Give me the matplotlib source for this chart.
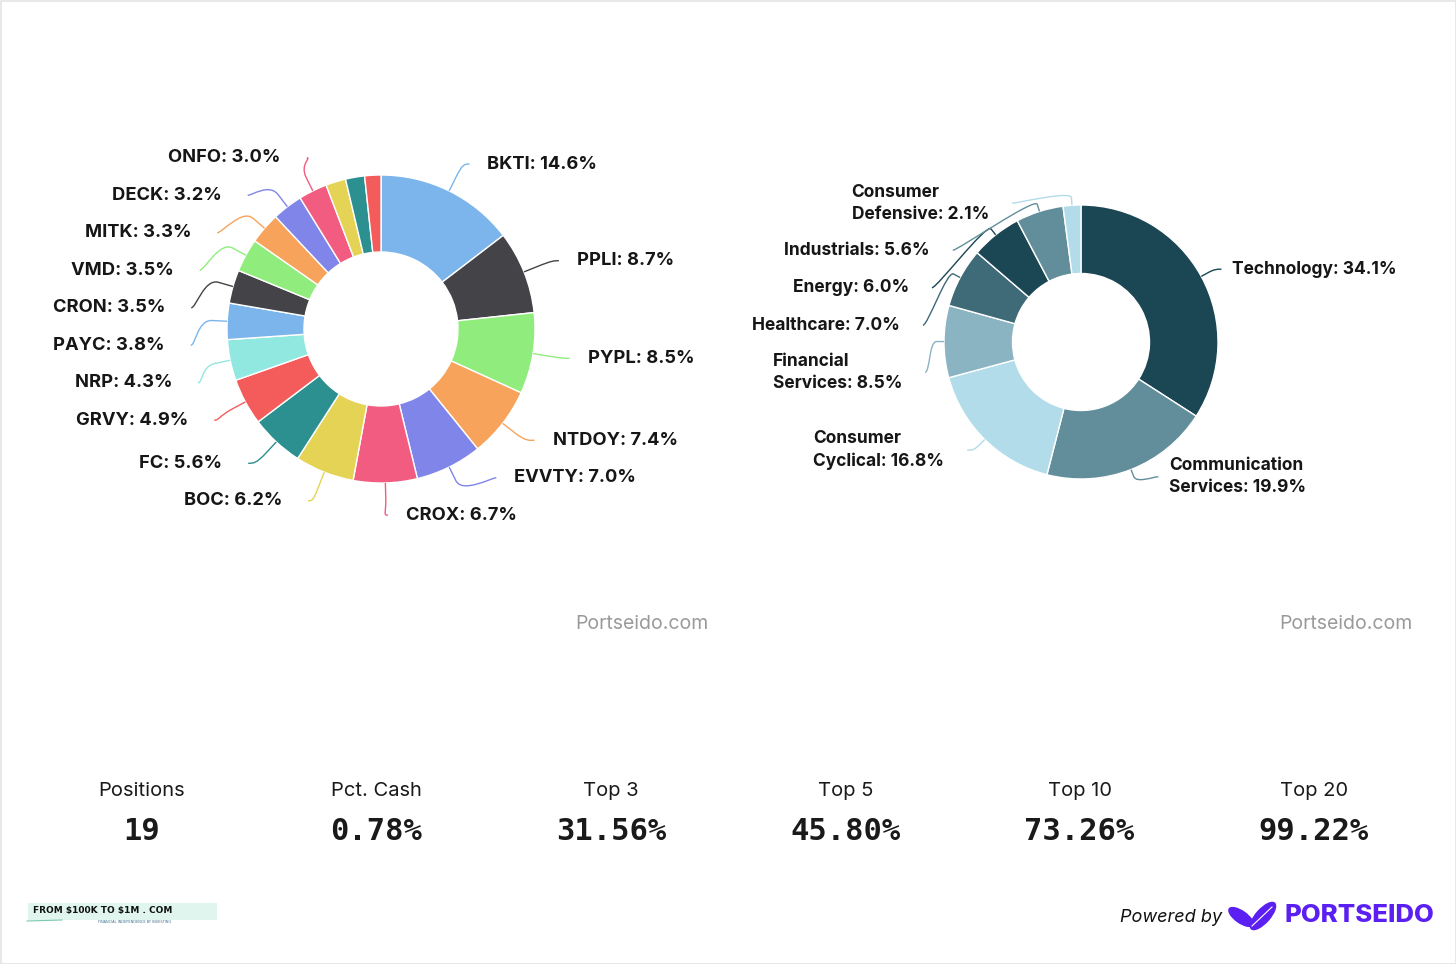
import numpy as np
import matplotlib
matplotlib.use("Agg")
import matplotlib.pyplot as plt
from matplotlib.patches import PathPatch, Rectangle, Ellipse
from matplotlib.path import Path

W, H = 1456, 964

# holdings (clockwise from 12 o'clock), last three too small to get a label
tickers = ["BKTI", "PPLI", "PYPL", "NTDOY", "EVVTY", "CROX", "BOC", "FC", "GRVY", "NRP",
           "PAYC", "CRON", "VMD", "MITK", "DECK", "ONFO", "", "", ""]
weights = [14.6, 8.7, 8.5, 7.4, 7.0, 6.7, 6.2, 5.6, 4.9, 4.3,
           3.8, 3.5, 3.5, 3.3, 3.2, 3.0, 2.1, 2.0, 1.7]
palette = ["#7cb5ec", "#434348", "#90ed7d", "#f7a35c", "#8085e9",
           "#f15c80", "#e4d354", "#2b908f", "#f45b5b", "#91e8e1"]

# sectors
sectors = ["Technology", "Communication\nServices", "Consumer\nCyclical", "Financial\nServices",
           "Healthcare", "Energy", "Industrials", "Consumer\nDefensive"]
sector_weights = [34.1, 19.9, 16.8, 8.5, 7.0, 6.0, 5.6, 2.1]
sector_colors = ["#1b4654", "#628e9b", "#b2dcea", "#8ab4c2",
                 "#3f6a78", "#1b4654", "#628e9b", "#b2dcea"]

# summary row
stat_names = ["Positions", "Pct. Cash", "Top 3", "Top 5", "Top 10", "Top 20"]
stat_values = ["19", "0.78%", "31.56%", "45.80%", "73.26%", "99.22%"]

LABEL_FONT = "Inter"
PURPLE = "#5b1ff2"


def spread(targets, sizes, lo, hi):
    """push overlapping label boxes apart, keeping groups centred on their targets"""
    groups = [[i] for i in np.argsort(targets)]
    while True:
        tops = []
        for g in groups:
            sz = np.array([sizes[i] for i in g])
            centre_offs = np.cumsum(sz) - sz / 2
            top = np.mean([targets[i] - co for i, co in zip(g, centre_offs)])
            tops.append(min(max(top, lo), hi - sz.sum()))
        merged = False
        for k in range(len(groups) - 1):
            end_k = tops[k] + sum(sizes[i] for i in groups[k])
            if end_k > tops[k + 1] + 1e-6:
                groups[k] = groups[k] + groups.pop(k + 1)
                merged = True
                break
        if not merged:
            break
    pos = {}
    for g, top in zip(groups, tops):
        y = top
        for i in g:
            pos[i] = y + sizes[i] / 2
            y += sizes[i]
    return pos


def donut(ax, values, colors, names, cx, cy, r, hole, dist, lo, hi, pad_l, pad_r, fs):
    # y axis is inverted, so counterclock in data space reads clockwise on screen
    ax.pie(values, colors=colors, radius=r, center=(cx, cy), startangle=-90,
           counterclock=True, wedgeprops=dict(width=r - hole, edgecolor="white", linewidth=1))
    frac = np.array(values) / np.sum(values)
    mids = np.radians((np.cumsum(frac) - frac / 2) * 360)
    rl = r + dist
    for right in (True, False):
        idx = [i for i in range(len(values)) if names[i] and ((mids[i] < np.pi) == right)]
        targets = {i: cy - rl * np.cos(mids[i]) for i in idx}
        sizes = {i: 19 * (names[i].count("\n") + 1) + 18.5 for i in idx}
        keys = list(idx)
        pos = spread([targets[i] for i in keys], [sizes[i] for i in keys], lo, hi)
        for j, i in enumerate(keys):
            y = pos[j]
            s = np.clip((y - cy) / rl, -1, 1)
            sign = 1 if right else -1
            gx = cx + sign * np.sqrt(1 - s ** 2) * rl
            lx = gx + sign * 7
            dx, dy = np.sin(mids[i]), -np.cos(mids[i])
            bx, by = cx + (r + dist / 2) * dx, cy + (r + dist / 2) * dy
            tx, ty = cx + r * dx, cy + r * dy
            verts = [(lx, y), (lx - sign * 5, y), (2 * bx - tx, 2 * by - ty), (bx, by), (tx, ty)]
            codes = [Path.MOVETO, Path.CURVE4, Path.CURVE4, Path.CURVE4, Path.LINETO]
            ax.add_patch(PathPatch(Path(verts, codes), fill=False, edgecolor=colors[i], lw=1))
            label = f"{names[i]}: {values[i]:.1f}%"
            ax.text(gx + pad_r if right else gx - pad_l, y, label,
                    ha="left" if right else "right", va="center", fontsize=fs,
                    fontweight="bold", family=LABEL_FONT, color="#161616",
                    multialignment="left", linespacing=1.4)


fig = plt.figure(figsize=(W / 100, H / 100), dpi=100)
ax = fig.add_axes([0, 0, 1, 1])

hold_colors = [palette[i % len(palette)] for i in range(len(weights))]
donut(ax, weights, hold_colors, tickers, 381, 329, 154, 77, 30, 139, 534, 33, 25, 13.2)
donut(ax, sector_weights, sector_colors, sectors, 1081, 342, 137, 68.5, 15, 175, 505, 30, 18, 12.5)

ax.set_xlim(0, W)
ax.set_ylim(H, 0)
ax.set_aspect("equal")
ax.axis("off")

# watermarks
for x in (642, 1346):
    ax.text(x, 624, "Portseido.com", ha="center", va="center", fontsize=14,
            family=LABEL_FONT, color="#9a9a9a")

# summary row
xs = np.linspace(142, 1314, len(stat_names))
for x, name, val in zip(xs, stat_names, stat_values):
    ax.text(x, 791, name, ha="center", va="center", fontsize=14.5, family=LABEL_FONT,
            color="#1a1a1a")
    ax.text(x, 831, val, ha="center", va="center", fontsize=22, fontweight="bold",
            family="DejaVu Sans Mono", color="#1a1a1a")

# footer: blog badge
ax.add_patch(Rectangle((28, 903), 189, 17, facecolor="#dff5ee", edgecolor="none"))
ax.plot([27, 62], [921, 920], color="#7cc8b0", lw=0.8)
ax.text(33, 911, "FROM $100K TO $1M . COM", ha="left", va="center", fontsize=6.5,
        fontweight="bold", family="DejaVu Sans", color="#111111", parse_math=False)
ax.text(98, 922, "FINANCIAL INDEPENDENCE BY INVESTING", ha="left", va="center", fontsize=2.5,
        family="DejaVu Sans", color="#3a6f8a", parse_math=False)

# footer: powered by
ax.text(1222, 917, "Powered by", ha="right", va="center", fontsize=13, style="italic",
        family=LABEL_FONT, color="#111111")
ax.add_patch(Ellipse((1241, 917), 30, 13, angle=35, facecolor=PURPLE, edgecolor="none"))
ax.add_patch(Ellipse((1263, 916), 36, 15, angle=-48, facecolor=PURPLE, edgecolor="none"))
ax.plot([1252, 1272], [926, 907], color="white", lw=0.8)
ax.text(1285, 916, "PORTSEIDO", ha="left", va="center", fontsize=18.5, fontweight="heavy",
        family=LABEL_FONT, color=PURPLE)

# thin frame around the card
ax.add_patch(Rectangle((0.5, 0.5), W - 1, H - 1, fill=False, edgecolor="#e4e4e4", lw=1.2))

fig.savefig("out.png", dpi=100, facecolor="white")
